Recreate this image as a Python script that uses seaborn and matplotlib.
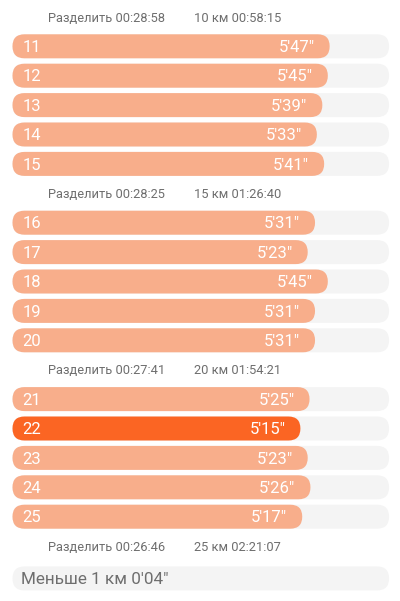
import numpy as np
import pandas as pd
import seaborn as sns
import matplotlib.pyplot as plt
from matplotlib.patches import FancyBboxPatch

sns.set_style("white")
plt.rcParams['font.family'] = ['Roboto', 'DejaVu Sans']

# data
km = [11, 12, 13, 14, 15, 16, 17, 18, 19, 20, 21, 22, 23, 24, 25]
pace_sec = [347, 345, 339, 333, 341, 331, 323, 345, 331, 331, 325, 315, 323, 326, 317]
split_times = ["00:28:58", "00:28:25", "00:27:41", "00:26:46"]
cum_km = [10, 15, 20, 25]
cum_times = ["00:58:15", "01:26:40", "01:54:21", "02:21:07"]
rest_label = "Меньше 1 км"
rest_pace = "0'04\""
scale_max = 412  # full track length in seconds

LIGHT = "#F8AE8B"
DARK = "#FB6523"
TRACK = "#F4F4F4"
GREY = "#6E6E6E"

PX_SEC = 0.914   # pixels per second
PX_SLOT = 29.4   # pixels per row slot
BAR_H = 0.816


def fmt(s):
    return f"{s // 60}'{s % 60:02d}\""


# layout: header, 5 rows, header, 5 rows, header, 5 rows, header, remainder
row_slot = []
header_slot = []
slot = 0
for g in range(3):
    header_slot.append(slot)
    slot += 1
    for i in range(5):
        row_slot.append(slot)
        slot += 1
header_slot.append(slot)
rest_slot = slot + 1.1

df = pd.DataFrame({"km": km, "pace": pace_sec, "slot": row_slot})
df["fast"] = df["pace"] == df["pace"].min()
track = pd.DataFrame({"slot": row_slot + [rest_slot], "val": scale_max})

fig = plt.figure(figsize=(4, 6.01), dpi=100)
ax = fig.add_axes([0, 0, 1, 1])

sns.barplot(data=track, x="val", y="slot", orient="h", native_scale=True,
            color=TRACK, saturation=1, width=BAR_H, ax=ax)
sns.barplot(data=df, x="pace", y="slot", orient="h", native_scale=True,
            hue="fast", palette={False: LIGHT, True: DARK}, saturation=1,
            legend=False, width=BAR_H, ax=ax)

# turn bars into pills
m = PX_SEC / PX_SLOT
for p in list(ax.patches):
    x0, y0, w, h = p.get_x(), p.get_y(), p.get_width(), p.get_height()
    fc = p.get_facecolor()
    p.remove()
    r = min(abs(h) / m / 2, w / 2)
    ax.add_patch(FancyBboxPatch((x0, min(y0, y0 + h)), w, abs(h),
                                boxstyle=f"round,pad=0,rounding_size={r}",
                                mutation_aspect=m, fc=fc, ec="none", lw=0))

ax.set_xlim(-12.5 / PX_SEC, (400 - 12.5) / PX_SEC)
top = -16.9 / PX_SLOT
ax.set_ylim((601 - 16.9) / PX_SLOT, top)
ax.axis("off")

for k, s, y in zip(km, pace_sec, row_slot):
    ax.annotate(str(k), xy=(0, y), xytext=(10, -5.8), textcoords="offset pixels",
                ha="left", va="baseline", color="white", fontsize=12)
    ax.annotate(fmt(s), xy=(s, y), xytext=(-15, -5.8), textcoords="offset pixels",
                ha="right", va="baseline", color="white", fontsize=12)

for st, ck, ct, y in zip(split_times, cum_km, cum_times, header_slot):
    ax.annotate(f"Разделить {st}", xy=(0, y), xytext=(35.8, -4.8),
                textcoords="offset pixels", ha="left", va="baseline",
                color=GREY, fontsize=9.3)
    ax.annotate(f"{ck} км {ct}", xy=(0, y), xytext=(181.5, -4.8),
                textcoords="offset pixels", ha="left", va="baseline",
                color=GREY, fontsize=9.3)

ax.annotate(f"{rest_label} {rest_pace}", xy=(0, rest_slot), xytext=(8.5, -6),
            textcoords="offset pixels", ha="left", va="baseline",
            color=GREY, fontsize=12.3)

fig.savefig("out.png", dpi=100)
